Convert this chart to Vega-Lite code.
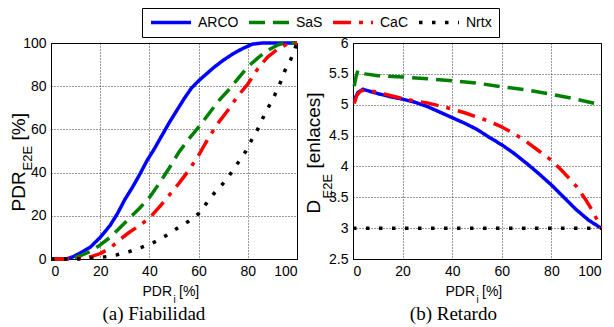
{
  "$schema": "https://vega.github.io/schema/vega-lite/v6.json",
  "padding": {"left": 8, "top": 7, "right": 0, "bottom": 0},
  "autosize": {"type": "pad"},
  "background": "white",
  "config": {
    "font": "Liberation Sans",
    "view": {"stroke": "black", "strokeWidth": 1},
    "axis": {
      "domainColor": "black",
      "labelColor": "black",
      "labelFont": "Liberation Sans",
      "labelFontSize": 14,
      "tickSize": 0,
      "ticks": false,
      "labelPadding": 5,
      "gridColor": "black",
      "gridDash": [1, 2],
      "gridOpacity": 1,
      "gridWidth": 0.8,
      "titleFont": "Liberation Sans",
      "titleFontWeight": "normal",
      "titleColor": "black",
      "titleBaseline": "alphabetic",
      "titleAlign": "left"
    },
    "title": {
      "font": "Liberation Serif",
      "fontSize": 19,
      "fontWeight": "normal",
      "color": "black",
      "orient": "bottom",
      "anchor": "middle",
      "frame": "bounds",
      "offset": 1
    },
    "line": {"strokeCap": "butt", "strokeJoin": "round", "strokeWidth": 3.5}
  },
  "datasets": {
    "fiabilidad": [
      {"serie": "ARCO", "pdr_i": 0, "pdr_e2e": 0},
      {"serie": "ARCO", "pdr_i": 6, "pdr_e2e": 0},
      {"serie": "ARCO", "pdr_i": 9, "pdr_e2e": 1},
      {"serie": "ARCO", "pdr_i": 13, "pdr_e2e": 3.5},
      {"serie": "ARCO", "pdr_i": 16, "pdr_e2e": 5.5},
      {"serie": "ARCO", "pdr_i": 20, "pdr_e2e": 10},
      {"serie": "ARCO", "pdr_i": 24, "pdr_e2e": 15.5},
      {"serie": "ARCO", "pdr_i": 27, "pdr_e2e": 21},
      {"serie": "ARCO", "pdr_i": 30, "pdr_e2e": 27.5},
      {"serie": "ARCO", "pdr_i": 33, "pdr_e2e": 33},
      {"serie": "ARCO", "pdr_i": 36, "pdr_e2e": 39},
      {"serie": "ARCO", "pdr_i": 39, "pdr_e2e": 45.5},
      {"serie": "ARCO", "pdr_i": 42, "pdr_e2e": 51},
      {"serie": "ARCO", "pdr_i": 45, "pdr_e2e": 57},
      {"serie": "ARCO", "pdr_i": 48, "pdr_e2e": 63},
      {"serie": "ARCO", "pdr_i": 51, "pdr_e2e": 68.5},
      {"serie": "ARCO", "pdr_i": 54, "pdr_e2e": 74},
      {"serie": "ARCO", "pdr_i": 57, "pdr_e2e": 79},
      {"serie": "ARCO", "pdr_i": 60, "pdr_e2e": 82.5},
      {"serie": "ARCO", "pdr_i": 63, "pdr_e2e": 85.5},
      {"serie": "ARCO", "pdr_i": 66, "pdr_e2e": 88.5},
      {"serie": "ARCO", "pdr_i": 70, "pdr_e2e": 92},
      {"serie": "ARCO", "pdr_i": 74, "pdr_e2e": 95},
      {"serie": "ARCO", "pdr_i": 78, "pdr_e2e": 97.5},
      {"serie": "ARCO", "pdr_i": 82, "pdr_e2e": 99.5},
      {"serie": "ARCO", "pdr_i": 86, "pdr_e2e": 100},
      {"serie": "ARCO", "pdr_i": 100, "pdr_e2e": 100},
      {"serie": "SaS", "pdr_i": 0, "pdr_e2e": 0},
      {"serie": "SaS", "pdr_i": 8, "pdr_e2e": 0},
      {"serie": "SaS", "pdr_i": 12, "pdr_e2e": 1.5},
      {"serie": "SaS", "pdr_i": 16, "pdr_e2e": 3.5},
      {"serie": "SaS", "pdr_i": 20, "pdr_e2e": 6.5},
      {"serie": "SaS", "pdr_i": 24, "pdr_e2e": 10},
      {"serie": "SaS", "pdr_i": 28, "pdr_e2e": 14.5},
      {"serie": "SaS", "pdr_i": 32, "pdr_e2e": 19},
      {"serie": "SaS", "pdr_i": 36, "pdr_e2e": 23.5},
      {"serie": "SaS", "pdr_i": 40, "pdr_e2e": 28.5},
      {"serie": "SaS", "pdr_i": 44, "pdr_e2e": 35},
      {"serie": "SaS", "pdr_i": 48, "pdr_e2e": 42},
      {"serie": "SaS", "pdr_i": 52, "pdr_e2e": 49.5},
      {"serie": "SaS", "pdr_i": 56, "pdr_e2e": 55.5},
      {"serie": "SaS", "pdr_i": 60, "pdr_e2e": 61},
      {"serie": "SaS", "pdr_i": 64, "pdr_e2e": 67},
      {"serie": "SaS", "pdr_i": 68, "pdr_e2e": 73},
      {"serie": "SaS", "pdr_i": 72, "pdr_e2e": 78},
      {"serie": "SaS", "pdr_i": 76, "pdr_e2e": 83.5},
      {"serie": "SaS", "pdr_i": 80, "pdr_e2e": 89},
      {"serie": "SaS", "pdr_i": 84, "pdr_e2e": 93},
      {"serie": "SaS", "pdr_i": 88, "pdr_e2e": 96.5},
      {"serie": "SaS", "pdr_i": 92, "pdr_e2e": 99},
      {"serie": "SaS", "pdr_i": 95, "pdr_e2e": 100},
      {"serie": "SaS", "pdr_i": 100, "pdr_e2e": 100},
      {"serie": "CaC", "pdr_i": 0, "pdr_e2e": 0},
      {"serie": "CaC", "pdr_i": 8, "pdr_e2e": 0},
      {"serie": "CaC", "pdr_i": 12, "pdr_e2e": 0.5},
      {"serie": "CaC", "pdr_i": 16, "pdr_e2e": 1},
      {"serie": "CaC", "pdr_i": 20, "pdr_e2e": 2.5},
      {"serie": "CaC", "pdr_i": 24, "pdr_e2e": 5},
      {"serie": "CaC", "pdr_i": 28, "pdr_e2e": 9},
      {"serie": "CaC", "pdr_i": 32, "pdr_e2e": 12.5},
      {"serie": "CaC", "pdr_i": 36, "pdr_e2e": 15.5},
      {"serie": "CaC", "pdr_i": 40, "pdr_e2e": 19},
      {"serie": "CaC", "pdr_i": 44, "pdr_e2e": 24},
      {"serie": "CaC", "pdr_i": 48, "pdr_e2e": 29.5},
      {"serie": "CaC", "pdr_i": 52, "pdr_e2e": 35},
      {"serie": "CaC", "pdr_i": 56, "pdr_e2e": 41},
      {"serie": "CaC", "pdr_i": 60, "pdr_e2e": 48},
      {"serie": "CaC", "pdr_i": 64, "pdr_e2e": 56},
      {"serie": "CaC", "pdr_i": 68, "pdr_e2e": 63},
      {"serie": "CaC", "pdr_i": 72, "pdr_e2e": 69},
      {"serie": "CaC", "pdr_i": 76, "pdr_e2e": 75.5},
      {"serie": "CaC", "pdr_i": 80, "pdr_e2e": 81},
      {"serie": "CaC", "pdr_i": 84, "pdr_e2e": 88},
      {"serie": "CaC", "pdr_i": 88, "pdr_e2e": 93.5},
      {"serie": "CaC", "pdr_i": 92, "pdr_e2e": 97},
      {"serie": "CaC", "pdr_i": 96, "pdr_e2e": 99.5},
      {"serie": "CaC", "pdr_i": 100, "pdr_e2e": 100},
      {"serie": "Nrtx", "pdr_i": 0, "pdr_e2e": 0},
      {"serie": "Nrtx", "pdr_i": 12, "pdr_e2e": 0},
      {"serie": "Nrtx", "pdr_i": 18, "pdr_e2e": 0.5},
      {"serie": "Nrtx", "pdr_i": 22, "pdr_e2e": 1},
      {"serie": "Nrtx", "pdr_i": 27, "pdr_e2e": 2},
      {"serie": "Nrtx", "pdr_i": 32, "pdr_e2e": 3.5},
      {"serie": "Nrtx", "pdr_i": 37, "pdr_e2e": 5.5},
      {"serie": "Nrtx", "pdr_i": 42, "pdr_e2e": 7.8},
      {"serie": "Nrtx", "pdr_i": 47, "pdr_e2e": 11},
      {"serie": "Nrtx", "pdr_i": 51, "pdr_e2e": 14},
      {"serie": "Nrtx", "pdr_i": 56, "pdr_e2e": 17.5},
      {"serie": "Nrtx", "pdr_i": 60, "pdr_e2e": 21},
      {"serie": "Nrtx", "pdr_i": 63, "pdr_e2e": 25.5},
      {"serie": "Nrtx", "pdr_i": 66, "pdr_e2e": 30},
      {"serie": "Nrtx", "pdr_i": 70, "pdr_e2e": 35},
      {"serie": "Nrtx", "pdr_i": 73, "pdr_e2e": 39.5},
      {"serie": "Nrtx", "pdr_i": 76, "pdr_e2e": 44.5},
      {"serie": "Nrtx", "pdr_i": 79, "pdr_e2e": 49.5},
      {"serie": "Nrtx", "pdr_i": 81.5, "pdr_e2e": 55},
      {"serie": "Nrtx", "pdr_i": 84, "pdr_e2e": 60},
      {"serie": "Nrtx", "pdr_i": 86, "pdr_e2e": 65},
      {"serie": "Nrtx", "pdr_i": 88.5, "pdr_e2e": 70.5},
      {"serie": "Nrtx", "pdr_i": 91, "pdr_e2e": 76},
      {"serie": "Nrtx", "pdr_i": 93, "pdr_e2e": 81},
      {"serie": "Nrtx", "pdr_i": 95, "pdr_e2e": 87},
      {"serie": "Nrtx", "pdr_i": 97.5, "pdr_e2e": 92.5},
      {"serie": "Nrtx", "pdr_i": 100, "pdr_e2e": 100}
    ],
    "retardo": [
      {"serie": "ARCO", "pdr_i": 0.5, "d_e2e": 5.08},
      {"serie": "ARCO", "pdr_i": 2, "d_e2e": 5.2},
      {"serie": "ARCO", "pdr_i": 4, "d_e2e": 5.25},
      {"serie": "ARCO", "pdr_i": 10, "d_e2e": 5.18},
      {"serie": "ARCO", "pdr_i": 15, "d_e2e": 5.13},
      {"serie": "ARCO", "pdr_i": 20, "d_e2e": 5.09},
      {"serie": "ARCO", "pdr_i": 25, "d_e2e": 5.04},
      {"serie": "ARCO", "pdr_i": 30, "d_e2e": 4.97},
      {"serie": "ARCO", "pdr_i": 35, "d_e2e": 4.88},
      {"serie": "ARCO", "pdr_i": 40, "d_e2e": 4.79},
      {"serie": "ARCO", "pdr_i": 45, "d_e2e": 4.7},
      {"serie": "ARCO", "pdr_i": 50, "d_e2e": 4.6},
      {"serie": "ARCO", "pdr_i": 55, "d_e2e": 4.47},
      {"serie": "ARCO", "pdr_i": 60, "d_e2e": 4.35},
      {"serie": "ARCO", "pdr_i": 65, "d_e2e": 4.21},
      {"serie": "ARCO", "pdr_i": 70, "d_e2e": 4.05},
      {"serie": "ARCO", "pdr_i": 75, "d_e2e": 3.88},
      {"serie": "ARCO", "pdr_i": 80, "d_e2e": 3.7},
      {"serie": "ARCO", "pdr_i": 85, "d_e2e": 3.5},
      {"serie": "ARCO", "pdr_i": 90, "d_e2e": 3.3},
      {"serie": "ARCO", "pdr_i": 95, "d_e2e": 3.13},
      {"serie": "ARCO", "pdr_i": 100, "d_e2e": 3.0},
      {"serie": "SaS", "pdr_i": 0.5, "d_e2e": 5.3},
      {"serie": "SaS", "pdr_i": 1.2, "d_e2e": 5.45},
      {"serie": "SaS", "pdr_i": 2, "d_e2e": 5.56},
      {"serie": "SaS", "pdr_i": 3, "d_e2e": 5.52},
      {"serie": "SaS", "pdr_i": 5, "d_e2e": 5.5},
      {"serie": "SaS", "pdr_i": 10, "d_e2e": 5.47},
      {"serie": "SaS", "pdr_i": 20, "d_e2e": 5.45},
      {"serie": "SaS", "pdr_i": 30, "d_e2e": 5.42},
      {"serie": "SaS", "pdr_i": 40, "d_e2e": 5.39},
      {"serie": "SaS", "pdr_i": 50, "d_e2e": 5.35},
      {"serie": "SaS", "pdr_i": 60, "d_e2e": 5.29},
      {"serie": "SaS", "pdr_i": 70, "d_e2e": 5.24},
      {"serie": "SaS", "pdr_i": 80, "d_e2e": 5.17},
      {"serie": "SaS", "pdr_i": 90, "d_e2e": 5.09},
      {"serie": "SaS", "pdr_i": 100, "d_e2e": 5.0},
      {"serie": "CaC", "pdr_i": 0.5, "d_e2e": 5.02},
      {"serie": "CaC", "pdr_i": 1.5, "d_e2e": 5.15},
      {"serie": "CaC", "pdr_i": 3, "d_e2e": 5.22},
      {"serie": "CaC", "pdr_i": 5, "d_e2e": 5.24},
      {"serie": "CaC", "pdr_i": 10, "d_e2e": 5.2},
      {"serie": "CaC", "pdr_i": 15, "d_e2e": 5.15},
      {"serie": "CaC", "pdr_i": 20, "d_e2e": 5.1},
      {"serie": "CaC", "pdr_i": 25, "d_e2e": 5.06},
      {"serie": "CaC", "pdr_i": 30, "d_e2e": 5.03},
      {"serie": "CaC", "pdr_i": 35, "d_e2e": 4.98},
      {"serie": "CaC", "pdr_i": 40, "d_e2e": 4.93},
      {"serie": "CaC", "pdr_i": 45, "d_e2e": 4.87},
      {"serie": "CaC", "pdr_i": 50, "d_e2e": 4.8},
      {"serie": "CaC", "pdr_i": 55, "d_e2e": 4.73},
      {"serie": "CaC", "pdr_i": 60, "d_e2e": 4.64},
      {"serie": "CaC", "pdr_i": 65, "d_e2e": 4.53},
      {"serie": "CaC", "pdr_i": 70, "d_e2e": 4.4},
      {"serie": "CaC", "pdr_i": 75, "d_e2e": 4.25},
      {"serie": "CaC", "pdr_i": 80, "d_e2e": 4.1},
      {"serie": "CaC", "pdr_i": 85, "d_e2e": 3.9},
      {"serie": "CaC", "pdr_i": 90, "d_e2e": 3.68},
      {"serie": "CaC", "pdr_i": 94, "d_e2e": 3.45},
      {"serie": "CaC", "pdr_i": 97, "d_e2e": 3.25},
      {"serie": "CaC", "pdr_i": 100, "d_e2e": 3.0},
      {"serie": "Nrtx", "pdr_i": 0, "d_e2e": 3},
      {"serie": "Nrtx", "pdr_i": 10, "d_e2e": 3},
      {"serie": "Nrtx", "pdr_i": 20, "d_e2e": 3},
      {"serie": "Nrtx", "pdr_i": 30, "d_e2e": 3},
      {"serie": "Nrtx", "pdr_i": 40, "d_e2e": 3},
      {"serie": "Nrtx", "pdr_i": 50, "d_e2e": 3},
      {"serie": "Nrtx", "pdr_i": 60, "d_e2e": 3},
      {"serie": "Nrtx", "pdr_i": 70, "d_e2e": 3},
      {"serie": "Nrtx", "pdr_i": 80, "d_e2e": 3},
      {"serie": "Nrtx", "pdr_i": 90, "d_e2e": 3},
      {"serie": "Nrtx", "pdr_i": 100, "d_e2e": 3}
    ]
  },
  "hconcat": [
    {
      "width": 246,
      "height": 216,
      "title": {"text": "(a) Fiabilidad"},
      "data": {"name": "fiabilidad"},
      "layer": [
        {
          "transform": [{"filter": "datum.serie == 'ARCO' || datum.serie == 'SaS'"}],
          "mark": {"type": "line"},
          "encoding": {
            "x": {"field": "pdr_i", "type": "quantitative", "scale": {"domain": [0, 100], "nice": false},
              "axis": {"orient": "bottom", "title": "PDR", "titleFontSize": 14, "values": [0, 20, 40, 60, 80, 100], "grid": true,
                "titleX": 91, "titleY": 36}},
            "y": {"field": "pdr_e2e", "type": "quantitative", "scale": {"domain": [0, 100], "nice": false},
              "axis": {"orient": "left", "title": "PDR", "titleFontSize": 19, "values": [0, 20, 40, 60, 80, 100], "grid": true,
                "titleX": -27, "titleY": 168}},
            "color": {"field": "serie", "type": "nominal",
              "scale": {"domain": ["ARCO", "SaS", "CaC", "Nrtx"], "range": ["#0000ff", "#008000", "#ff0000", "#000000"]},
              "legend": {"title": null, "orient": "none", "legendX": 91, "legendY": -35, "direction": "horizontal", "columns": 4,
                "symbolType": "stroke", "symbolSize": 1600, "symbolStrokeWidth": 3.5, "clipHeight": 15, "labelFontSize": 14, "labelFont": "Liberation Sans",
                "labelColor": "black", "strokeColor": "black", "fillColor": "white", "padding": 7, "columnPadding": 8, "labelOffset": 5}},
            "strokeDash": {"field": "serie", "type": "nominal",
              "scale": {"domain": ["ARCO", "SaS", "CaC", "Nrtx"], "range": [[1, 0], [16, 8], [18, 8, 4, 8], [3.5, 9.5]]}}
          }
        },
        {
          "transform": [{"filter": "datum.serie == 'CaC'"}],
          "mark": {"type": "line"},
          "encoding": {
            "x": {"field": "pdr_i", "type": "quantitative", "scale": {"domain": [0, 100], "nice": false},
              "axis": {"orient": "bottom", "title": "i", "titleFontSize": 10, "labels": false, "domain": false, "grid": false,
                "titleX": 122, "titleY": 43}},
            "y": {"field": "pdr_e2e", "type": "quantitative", "scale": {"domain": [0, 100], "nice": false},
              "axis": {"orient": "left", "title": "E2E", "titleFontSize": 13, "labels": false, "domain": false, "grid": false,
                "titleX": -20, "titleY": 127}},
            "color": {"field": "serie", "type": "nominal"},
            "strokeDash": {"field": "serie", "type": "nominal"}
          }
        },
        {
          "transform": [{"filter": "datum.serie == 'Nrtx'"}],
          "mark": {"type": "line"},
          "encoding": {
            "x": {"field": "pdr_i", "type": "quantitative", "scale": {"domain": [0, 100], "nice": false},
              "axis": {"orient": "bottom", "title": "[%]", "titleFontSize": 14, "labels": false, "domain": false, "grid": false,
                "titleX": 127.5, "titleY": 36}},
            "y": {"field": "pdr_e2e", "type": "quantitative", "scale": {"domain": [0, 100], "nice": false},
              "axis": {"orient": "left", "title": "[%]", "titleFontSize": 19, "labels": false, "domain": false, "grid": false,
                "titleX": -27, "titleY": 97}},
            "color": {"field": "serie", "type": "nominal"},
            "strokeDash": {"field": "serie", "type": "nominal"}
          }
        }
      ],
      "resolve": {"axis": {"x": "independent", "y": "independent"}}
    },
    {
      "width": 248,
      "height": 216,
      "title": {"text": "(b) Retardo"},
      "data": {"name": "retardo"},
      "layer": [
        {
          "transform": [{"filter": "datum.serie == 'ARCO' || datum.serie == 'SaS'"}],
          "mark": {"type": "line"},
          "encoding": {
            "x": {"field": "pdr_i", "type": "quantitative", "scale": {"domain": [0, 100], "nice": false},
              "axis": {"orient": "bottom", "title": "PDR", "titleFontSize": 14, "values": [0, 20, 40, 60, 80, 100], "grid": true,
                "titleX": 92, "titleY": 36}},
            "y": {"field": "d_e2e", "type": "quantitative", "scale": {"domain": [2.5, 6], "nice": false, "zero": false},
              "axis": {"orient": "left", "title": "D", "titleFontSize": 19, "format": ".1~f",
                "values": [2.5, 3, 3.5, 4, 4.5, 5, 5.5, 6], "grid": true,
                "titleX": -34, "titleY": 170}},
            "color": {"field": "serie", "type": "nominal"},
            "strokeDash": {"field": "serie", "type": "nominal"}
          }
        },
        {
          "transform": [{"filter": "datum.serie == 'CaC'"}],
          "mark": {"type": "line"},
          "encoding": {
            "x": {"field": "pdr_i", "type": "quantitative", "scale": {"domain": [0, 100], "nice": false},
              "axis": {"orient": "bottom", "title": "i", "titleFontSize": 10, "labels": false, "domain": false, "grid": false,
                "titleX": 123, "titleY": 43}},
            "y": {"field": "d_e2e", "type": "quantitative", "scale": {"domain": [2.5, 6], "nice": false, "zero": false},
              "axis": {"orient": "left", "title": "E2E", "titleFontSize": 13, "labels": false, "domain": false, "grid": false,
                "titleX": -22, "titleY": 155}},
            "color": {"field": "serie", "type": "nominal"},
            "strokeDash": {"field": "serie", "type": "nominal"}
          }
        },
        {
          "transform": [{"filter": "datum.serie == 'Nrtx'"}],
          "mark": {"type": "line"},
          "encoding": {
            "x": {"field": "pdr_i", "type": "quantitative", "scale": {"domain": [0, 100], "nice": false},
              "axis": {"orient": "bottom", "title": "[%]", "titleFontSize": 14, "labels": false, "domain": false, "grid": false,
                "titleX": 128.5, "titleY": 36}},
            "y": {"field": "d_e2e", "type": "quantitative", "scale": {"domain": [2.5, 6], "nice": false, "zero": false},
              "axis": {"orient": "left", "title": "[enlaces]", "titleFontSize": 19, "labels": false, "domain": false, "grid": false,
                "titleX": -34, "titleY": 125}},
            "color": {"field": "serie", "type": "nominal"},
            "strokeDash": {"field": "serie", "type": "nominal"}
          }
        }
      ],
      "resolve": {"axis": {"x": "independent", "y": "independent"}}
    }
  ],
  "spacing": 56,
  "bounds": "flush"
}
